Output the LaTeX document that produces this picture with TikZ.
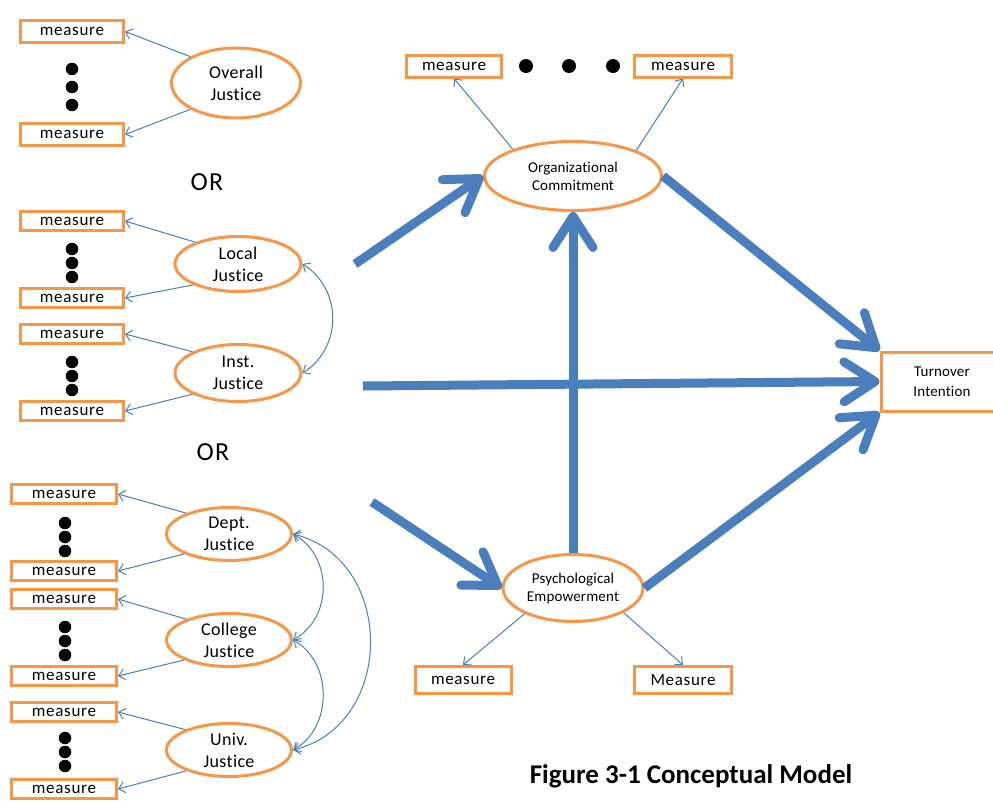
\documentclass[tikz,border=0pt]{standalone}
\usepackage{fontspec}
\setmainfont{Carlito}[Ligatures=NoCommon]
\newfontfamily\boxfont{Carlito}[LetterSpace=4,Ligatures=NoCommon]
\newfontfamily\latfont{Carlito}[LetterSpace=2,Ligatures=NoCommon]
\newfontfamily\smallfont{Carlito}[LetterSpace=1,Ligatures=NoCommon]
\newfontfamily\orfont{Carlito}[LetterSpace=5,Ligatures=NoCommon]
\usetikzlibrary{shapes.geometric,arrows.meta}
\definecolor{linkblue}{RGB}{74,126,189}
\definecolor{boxorange}{RGB}{247,150,70}
\begin{document}
\begin{tikzpicture}[x=1pt,y=-1pt,
  measurebox/.style={draw=boxorange,line width=3pt,inner sep=0pt,
    minimum width=103pt,minimum height=19pt,font=\boxfont\fontsize{17}{20}\selectfont},
  latent/.style={ellipse,draw=boxorange,line width=3pt,fill=white,inner sep=0pt,
    align=center,font=\latfont\fontsize{18}{22}\selectfont},
  construct/.style={ellipse,draw=boxorange,line width=3pt,fill=white,inner sep=0pt,
    align=center,font=\smallfont\fontsize{15}{18}\selectfont},
  outcome/.style={draw=boxorange,line width=3pt,fill=white,inner sep=0pt,
    align=center,font=\smallfont\fontsize{15}{20}\selectfont},
  dot/.style={circle,fill=black,inner sep=0pt,minimum size=12.5pt},
  loading/.style={draw=linkblue,line width=1pt,-{Straight Barb[length=6pt,width=11pt]}},
  covar/.style={draw=linkblue,line width=1pt,
    {Straight Barb[length=6pt,width=11pt]}-{Straight Barb[length=6pt,width=11pt]}},
  structural/.style={draw=linkblue,line width=9pt,-{Straight Barb[length=31pt,width=40pt,round]}},
  ortext/.style={font=\orfont\fontsize{26}{30}\selectfont},
]
\useasboundingbox (0,0) rectangle (993,801);

% ---- overall justice block
\node[measurebox,minimum height=22pt] (m1a) at (72,31.5) {measure};
\node[measurebox,minimum height=22pt] (m1b) at (72,134.5) {measure};
\node[dot] (d1a) at (72,69) {};
\node[dot] (d1b) at (72,87) {};
\node[dot] (d1c) at (72,105) {};
\node[latent,minimum width=129pt,minimum height=70pt] (oj) at (236,83) {Overall\\Justice};
\draw[loading] (oj.150) -- (m1a.east);
\draw[loading] (oj.210) -- (m1b.east);

\node[ortext] (or1) at (207,182) {OR};

% ---- local / institutional justice block
\node[measurebox] (m2a) at (72,221) {measure};
\node[measurebox] (m2b) at (72,298) {measure};
\node[measurebox] (m2c) at (72,334) {measure};
\node[measurebox] (m2d) at (72,411) {measure};
\node[dot] (d2a) at (72,249) {};
\node[dot] (d2b) at (72,263) {};
\node[dot] (d2c) at (72,277) {};
\node[dot] (d2d) at (72,362) {};
\node[dot] (d2e) at (72,376) {};
\node[dot] (d2f) at (72,390) {};
\node[latent,minimum width=126pt,minimum height=55pt] (lj) at (238,264) {Local\\Justice};
\node[latent,minimum width=126pt,minimum height=57pt] (ij) at (238,373) {Inst.\\Justice};
\draw[loading] (lj.153) -- (m2a.east);
\draw[loading] (lj.205) -- (m2b.east);
\draw[loading] (ij.155) -- (m2c.east);
\draw[loading] (ij.205) -- (m2d.east);
\draw[covar] (lj.east) .. controls +(40,25) and +(40,-25) .. (ij.east);

\node[ortext] (or2) at (213,452) {OR};

% ---- department / college / university justice block
\node[measurebox,minimum width=105pt] (m3a) at (64,494) {measure};
\node[measurebox,minimum width=105pt] (m3b) at (64,571) {measure};
\node[measurebox,minimum width=105pt] (m3c) at (64,599) {measure};
\node[measurebox,minimum width=105pt] (m3d) at (64,676) {measure};
\node[measurebox,minimum width=105pt] (m3e) at (64,712) {measure};
\node[measurebox,minimum width=105pt] (m3f) at (64,789) {measure};
\node[dot] (d3a) at (65,523) {};
\node[dot] (d3b) at (65,537) {};
\node[dot] (d3c) at (65,551) {};
\node[dot] (d3d) at (65,627) {};
\node[dot] (d3e) at (65,641) {};
\node[dot] (d3f) at (65,655) {};
\node[dot] (d3g) at (65,738) {};
\node[dot] (d3h) at (65,752) {};
\node[dot] (d3i) at (65,766) {};
\node[latent,minimum width=125pt,minimum height=53pt] (dj) at (229,534) {Dept.\\Justice};
\node[latent,minimum width=125pt,minimum height=53pt] (cj) at (229,640) {College\\Justice};
\node[latent,minimum width=125pt,minimum height=53pt] (uj) at (229,750) {Univ.\\Justice};
\draw[loading] (dj.154) -- (m3a.east);
\draw[loading] (dj.204) -- (m3b.east);
\draw[loading] (cj.154) -- (m3c.east);
\draw[loading] (cj.204) -- (m3d.east);
\draw[loading] (uj.155) -- (m3e.east);
\draw[loading] (uj.206) -- (m3f.east);
\draw[covar] (dj.east) .. controls +(40,22) and +(40,-22) .. (cj.east);
\draw[covar] (cj.east) .. controls +(40,22) and +(40,-22) .. (uj.east);
\draw[covar] (dj.east) .. controls +(103,25) and +(103,-25) .. (uj.east);

% ---- mediators and outcome
\node[construct,minimum width=177pt,minimum height=69pt] (oc) at (573,176) {Organizational\\Commitment};
\node[construct,minimum width=140pt,minimum height=67pt] (pe) at (573,588) {Psychological\\Empowerment};
\node[outcome,minimum width=122pt,minimum height=59pt] (ti) at (942,381.5) {Turnover\\Intention};

\node[measurebox,minimum width=95pt,minimum height=22pt] (mt1) at (454,66) {measure};
\node[measurebox,minimum width=97pt,minimum height=22pt] (mt2) at (683,66) {measure};
\node[dot,minimum size=14pt] (dt1) at (526,66) {};
\node[dot,minimum size=14pt] (dt2) at (569,66) {};
\node[dot,minimum size=14pt] (dt3) at (613,66) {};
\node[measurebox,minimum width=96pt,minimum height=27pt] (mb1) at (463,680) {measure};
\node[measurebox,minimum width=97pt,minimum height=27pt] (mb2) at (683,680) {Measure};

\draw[loading] (oc.156) -- (mt1.south);
\draw[loading] (oc.22) -- (mt2.south);
\draw[loading] (pe.208) -- (mb1.north);
\draw[loading] (pe.334) -- (mb2.north);

% ---- structural paths
\coordinate (s1) at (355,264);
\coordinate (s2) at (363,386);
\coordinate (s3) at (372,502);
\draw[structural] (s1) -- (oc.west);
\draw[structural] (s2) -- (ti.west);
\draw[structural] (s3) -- (pe.west);
\draw[structural] (pe.north) -- (oc.south);
\draw[structural] (oc.east) -- (ti.north west);
\draw[structural] (pe.east) -- (ti.south west);

% ---- caption
\node[font=\bfseries\fontsize{27}{32}\selectfont] (cap) at (691,776) {Figure 3-1 Conceptual Model};
\end{tikzpicture}
\end{document}
